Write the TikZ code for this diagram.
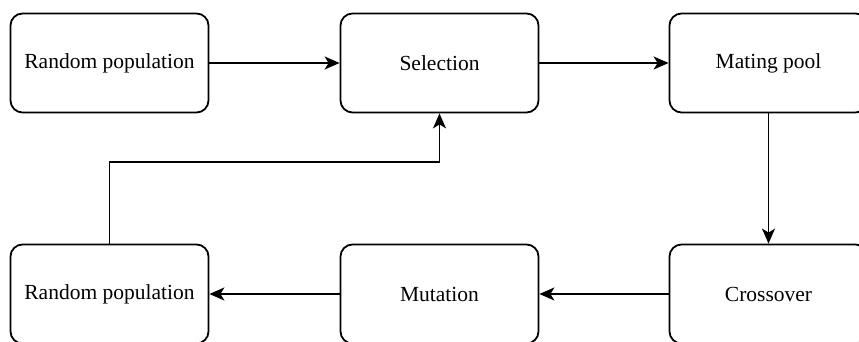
\documentclass[tikz,border=0pt]{standalone}
\usepackage{fontspec}
\setmainfont{LiberationSerif-Regular.ttf}
\usepackage{tikz}
\usetikzlibrary{arrows.meta,calc}
\tikzset{
  stagebox/.style = {draw, line width=1.8pt, rounded corners=12pt,
    minimum width=198pt, minimum height=99pt, align=center,
    font=\fontsize{21.5}{25}\selectfont},
  flow/.style = {line width=1.8pt, -{Stealth[length=15pt,width=13pt,inset=4pt]}}
}
\begin{document}
\begin{tikzpicture}[x=1pt,y=1pt]
  \useasboundingbox (0,0) rectangle (859,342);
  % top row
  \node[stagebox] (randA) at (109.5,279) {Random population};
  \node[stagebox] (sel)   at (439.5,279) {Selection};
  \node[stagebox] (pool)  at (768.5,279) {Mating pool};
  % bottom row
  \node[stagebox] (cross) at (768.5,48) {Crossover};
  \node[stagebox] (mut)   at (439.5,48) {Mutation};
  \node[stagebox] (randB) at (109.5,48) {Random population};
  \coordinate (bend) at (109.5,180);

  \draw[flow] (randA) -- (sel);
  \draw[flow] (sel) -- (pool);
  \draw[flow] (pool) -- (cross);
  \draw[flow] (cross) -- (mut);
  \draw[flow] (mut) -- (randB);
  \draw[flow] (randB.north) -- (bend) -| (sel.south);
\end{tikzpicture}
\end{document}
